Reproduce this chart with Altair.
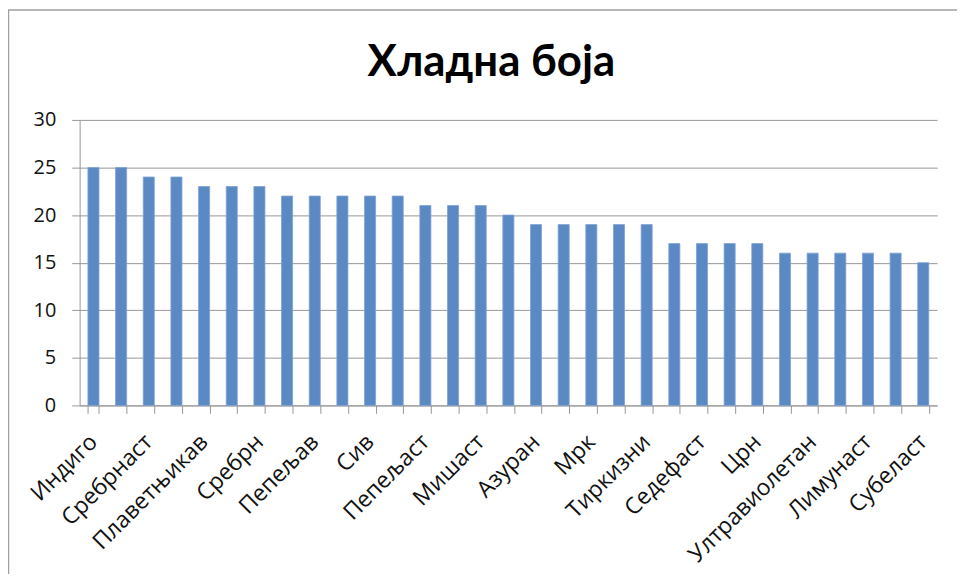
import altair as alt
import pandas as pd

categories = [
    "Индиго", "Плав", "Сребрнаст", "Тегет", "Плаветњикав", "Модар",
    "Сребрн", "Челичан", "Пепељав", "Олован", "Сив", "Небески",
    "Пепељаст", "Леден", "Мишаст", "Морски", "Азуран", "Цијан",
    "Мрк", "Зелен", "Тиркизни", "Маслинаст", "Седефаст", "Љубичаст",
    "Црн", "Лавандин", "Ултравиолетан", "Сребрнкаст", "Лимунаст", "Ноћни",
    "Субеласт",
]
values = [25, 25, 24, 24, 23, 23, 23, 22, 22, 22, 22, 22, 21, 21, 21, 20,
          19, 19, 19, 19, 19, 17, 17, 17, 17, 16, 16, 16, 16, 16, 15]
shown_labels = ["Индиго", "Сребрнаст", "Плаветњикав", "Сребрн", "Пепељав", "Сив",
                "Пепељаст", "Мишаст", "Азуран", "Мрк", "Тиркизни", "Седефаст",
                "Црн", "Ултравиолетан", "Лимунаст", "Субеласт"]
y_ticks = [0, 5, 10, 15, 20, 25, 30]
title_text = "Хладна боја"

df = pd.DataFrame({"category": categories, "value": values})

W, H = 862, 287
FONT = "Open Sans"
GRID = "#979797"

label_list = "[" + ",".join("'" + s + "'" for s in shown_labels) + "]"

bars = alt.Chart(df).mark_bar(color="#5B89C4", stroke="#7FA3D3", strokeWidth=0.8).encode(
    x=alt.X("category:N", sort=categories, title=None,
            scale=alt.Scale(paddingInner=0.6, paddingOuter=0.3),
            axis=alt.Axis(labelAngle=-45, labelAlign="right", labelBaseline="top",
                          labelFont=FONT, labelFontSize=23, labelColor="#111111",
                          labelPadding=17, labelOffset=-8,
                          labelExpr=f"indexof({label_list}, datum.value) >= 0 ? datum.label : ''",
                          labelOverlap=False,
                          tickBand="extent", tickSize=8, tickColor=GRID,
                          domainColor=GRID, grid=False)),
    y=alt.Y("value:Q", title=None,
            scale=alt.Scale(domain=[0, 30], nice=False),
            axis=alt.Axis(values=y_ticks, labelFont=FONT, labelFontSize=20,
                          labelColor="#111111", labelPadding=16, tickSize=8,
                          tickColor=GRID, domainColor=GRID, gridColor=GRID,
                          gridOpacity=1)),
)

border = alt.Chart(pd.DataFrame({"a": [0]})).mark_rect(
    fill=None, stroke="#a0a0a0", strokeWidth=1.5
).encode(x=alt.value(-71.5), x2=alt.value(W + 200), y=alt.value(-110.5), y2=alt.value(H + 300))

chart = alt.layer(border, bars).properties(
    width=W, height=H,
    title=alt.TitleParams(title_text, font="Lato", fontSize=44, fontWeight="bold",
                          color="#000000", anchor="middle", offset=-76, dx=-17),
    autosize=alt.AutoSizeParams(type="none"),
    padding={"left": 72, "top": 111, "right": 20, "bottom": 168},
).configure_view(stroke=None)

chart.save("out.html", embed_options={"renderer": "svg", "actions": False})
